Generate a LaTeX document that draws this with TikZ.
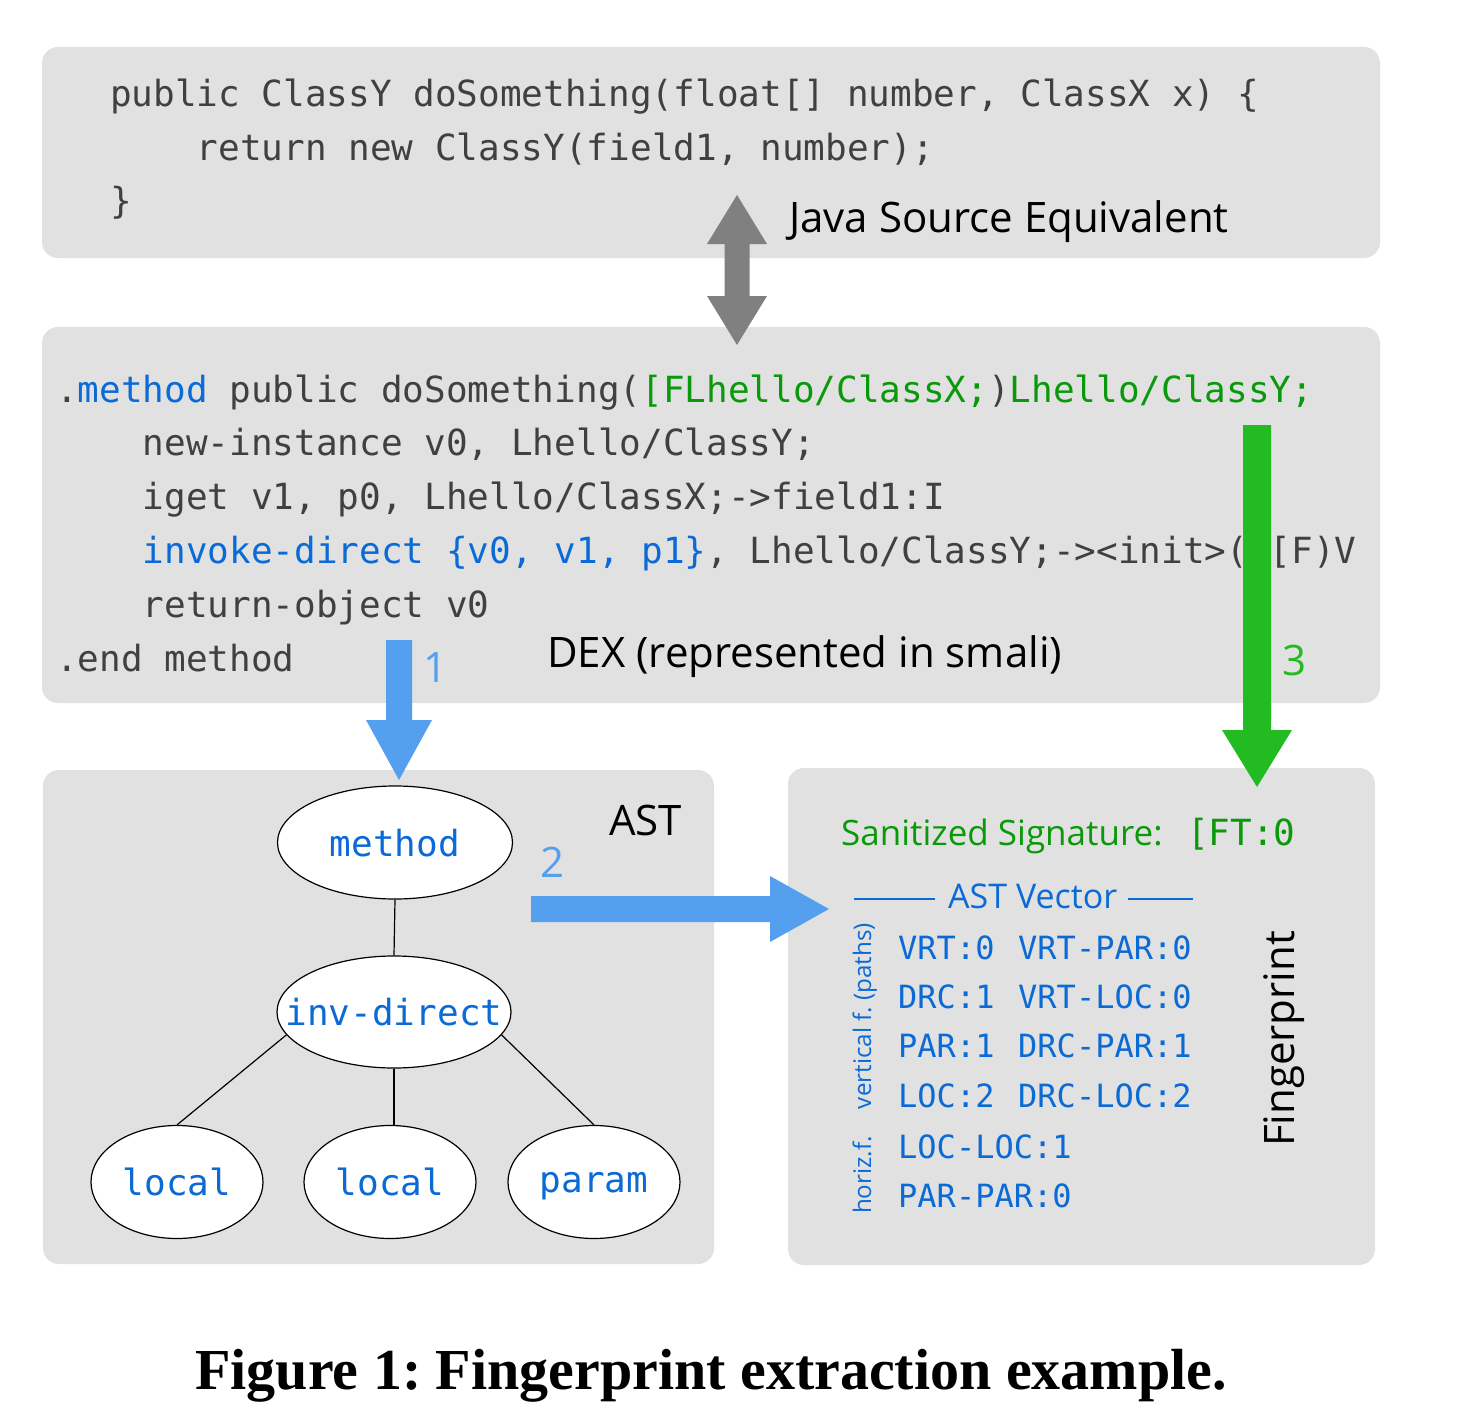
\documentclass[tikz,border=0pt]{standalone}
\usepackage{fontspec}
\setmonofont{DejaVu Sans Mono}
\newfontfamily\lblfont{Open Sans}
\newfontfamily\capfont{Liberation Serif}
\usetikzlibrary{shapes.geometric}
\definecolor{boxgray}{HTML}{E1E1E1}
\definecolor{codegray}{HTML}{404040}
\definecolor{kwblue}{HTML}{0A6AD6}
\definecolor{sgreen}{HTML}{0A990A}
\definecolor{arrblue}{HTML}{55A0EE}
\definecolor{arrgreen}{HTML}{22BB22}
\definecolor{arrgray}{HTML}{808080}
\frenchspacing
\newcommand{\nodetext}[1]{\makebox[0pt]{#1}}
\begin{document}
\begin{tikzpicture}[x=1pt,y=-1pt,
  panel/.style={fill=boxgray, rounded corners=16pt, inner sep=0pt, draw=none},
  code/.style={anchor=base west, inner sep=0pt, text=codegray, font=\ttfamily\fontsize{36}{40}\selectfont},
  lbl/.style={inner sep=0pt, font=\lblfont\fontsize{42}{46}\selectfont},
  num/.style={inner sep=0pt, anchor=base, font=\lblfont\fontsize{42}{46}\selectfont},
  vec/.style={anchor=base west, inner sep=0pt, text=kwblue, font=\ttfamily\fontsize{32}{36}\selectfont},
  astnode/.style={ellipse, draw=black, line width=1.2pt, fill=white, inner sep=0pt,
    text=kwblue, text depth=0pt, font=\ttfamily\fontsize{36}{40}\selectfont},
  tree/.style={draw=black, line width=1.2pt}]
\useasboundingbox (0,0) rectangle (1460,1410);
% panels
\node[panel, minimum width=1338pt, minimum height=211pt] (java) at (711,152.5) {};
\node[panel, minimum width=1338pt, minimum height=376pt] (dex) at (711,515) {};
\node[panel, minimum width=671pt, minimum height=494pt] (ast) at (378.5,1017) {};
\node[panel, minimum width=587pt, minimum height=497pt] (fp) at (1081.5,1016.5) {};
% java code
\node[code] (j1) at (110,107) {public ClassY doSomething(float[] number, ClassX x) \{};
\node[code] (j2) at (196.7,160.5) {return new ClassY(field1, number);};
\node[code] (j3) at (110,214) {\}};
\node[lbl, anchor=base west] (javalbl) at (789,233) {Java Source Equivalent};
% dex code
\node[code] (d1) at (56,402) {.\textcolor{kwblue}{method} public doSomething(\textcolor{sgreen}{[FLhello/ClassX;})\textcolor{sgreen}{Lhello/ClassY;}};
\node[code] (d2) at (142.7,455.5) {new-instance v0, Lhello/ClassY;};
\node[code] (d3) at (142.7,509) {iget v1, p0, Lhello/ClassX;->field1:I};
\node[code] (d4) at (142.7,563) {\textcolor{kwblue}{invoke-direct \{v0, v1, p1\}}, Lhello/ClassY;-><init>(I[F)V};
\node[code] (d5) at (142.7,617) {return-object v0};
\node[code] (d6) at (56,671) {.end method};
\node[lbl, anchor=base west] (dexlbl) at (547,667) {DEX (represented in smali)};
% AST
\node[lbl, anchor=base west] (astlbl) at (609,835) {AST};
\node[astnode, minimum width=235pt, minimum height=113pt] (m) at (395,842.5) {\nodetext{method}};
\node[astnode, minimum width=234pt, minimum height=112pt] (inv) at (394,1012) {\nodetext{inv-direct}};
\node[astnode, minimum width=172pt, minimum height=113pt] (l1) at (177,1182) {\nodetext{local}};
\node[astnode, minimum width=172pt, minimum height=113pt] (l2) at (390,1182) {\nodetext{local}};
\node[astnode, minimum width=172pt, minimum height=113pt] (pa) at (594,1182) {\nodetext{param}};
\draw[tree] (m.south) -- (inv.north);
\draw[tree] (inv.192) -- (l1.north);
\draw[tree] (inv.south) -- (inv.south |- l2.north);
\draw[tree] (inv.348) -- (pa.north);
% fingerprint
\node[lbl, anchor=base west, text=sgreen, font=\lblfont\fontsize{35}{40}\selectfont] (sanlbl) at (841,845) {Sanitized Signature:};
\node[code, text=sgreen] (sanval) at (1187,845) {[FT:0};
\node[lbl, anchor=base west, text=kwblue, font=\lblfont\fontsize{34}{38}\selectfont] (astv) at (948,908) {AST Vector};
\draw[kwblue, line width=2.2pt] (854,899) -- (935,899);
\draw[kwblue, line width=2.2pt] (1128,899) -- (1193,899);
\node[vec] (v1a) at (898,959) {VRT:0};
\node[vec] (v1b) at (1018,959) {VRT-PAR:0};
\node[vec] (v2a) at (898,1008) {DRC:1};
\node[vec] (v2b) at (1018,1008) {VRT-LOC:0};
\node[vec] (v3a) at (898,1057) {PAR:1};
\node[vec] (v3b) at (1018,1057) {DRC-PAR:1};
\node[vec] (v4a) at (898,1107) {LOC:2};
\node[vec] (v4b) at (1018,1107) {DRC-LOC:2};
\node[vec] (v5a) at (898,1158) {LOC-LOC:1};
\node[vec] (v6a) at (898,1207) {PAR-PAR:0};
\node[lbl, rotate=90, anchor=base, text=kwblue, font=\lblfont\fontsize{24.2}{30}\selectfont] (vertf) at (871,1016) {vertical f. (paths)};
\node[lbl, rotate=90, anchor=base, text=kwblue, font=\lblfont\fontsize{24.2}{30}\selectfont] (horf) at (871,1175) {horiz.f.};
\node[lbl, rotate=90, anchor=base, font=\lblfont\fontsize{42}{48}\selectfont] (fplbl) at (1294,1039) {Fingerprint};
% arrows
\coordinate (g1) at (737,195);
\coordinate (g2) at (737,345);
\fill[arrgray] (g1) -- ++(30,49) -- ++(-17.5,0) -- ++(0,52) -- ++(17.5,0) -- (g2) -- ++(-30,-49) -- ++(17.5,0) -- ++(0,-52) -- ++(-17.5,0) -- cycle;
\coordinate (b1s) at (399,640);
\coordinate (b1e) at (399,780);
\fill[arrblue] (b1s) ++(-13,0) -- ++(26,0) -- ++(0,80) -- ++(20,0) -- (b1e) -- ++(-33,-60) -- ++(20,0) -- cycle;
\node[num, text=arrblue] (n1) at (436,682) {1};
\coordinate (b2s) at (531,909);
\coordinate (b2e) at (829,909);
\fill[arrblue] (b2s) ++(0,-13) -- ++(239,0) -- ++(0,-20) -- (b2e) -- ++(-59,33) -- ++(0,-20) -- ++(-239,0) -- cycle;
\node[num, text=arrblue] (n2) at (553,877) {2};
\coordinate (gs) at (1257,425);
\coordinate (ge) at (1257,787);
\fill[arrgreen] (gs) ++(-14,0) -- ++(28,0) -- ++(0,305) -- ++(21,0) -- (ge) -- ++(-35,-57) -- ++(21,0) -- cycle;
\node[num, text=arrgreen] (n3) at (1294,675) {3};
% caption
\node[inner sep=0pt, anchor=base, font=\capfont\bfseries\fontsize{58}{62}\selectfont] (cap) at (711,1389) {Figure 1: Fingerprint extraction example.};
\end{tikzpicture}
\end{document}
